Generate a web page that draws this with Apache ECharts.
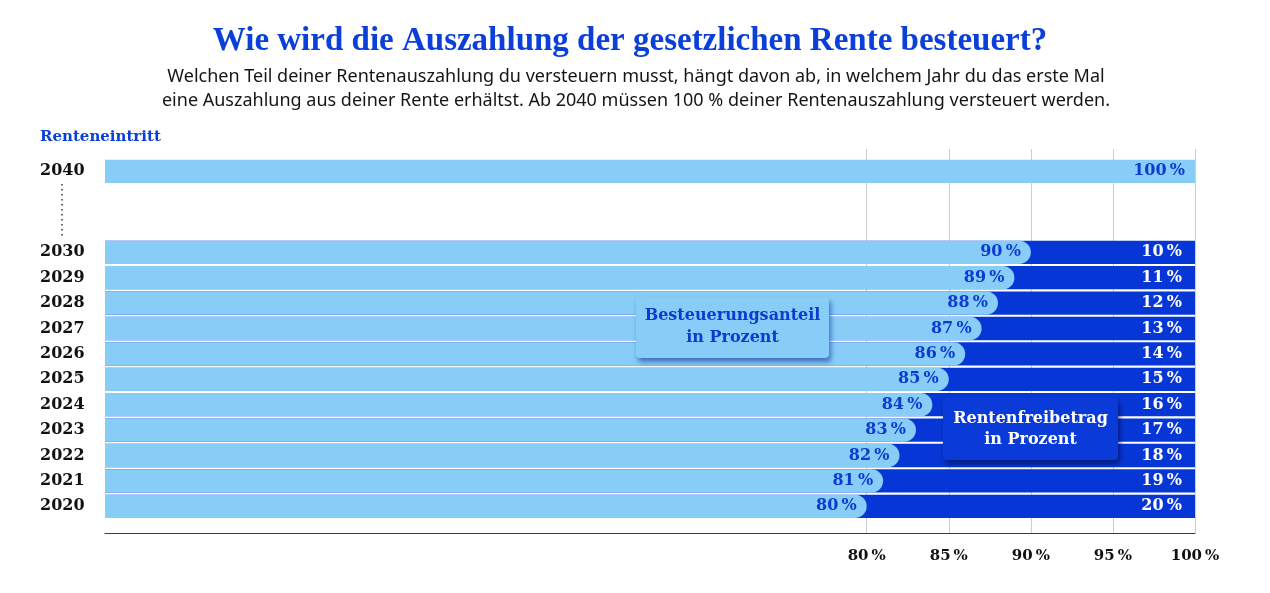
<!DOCTYPE html>
<html><head><meta charset="utf-8">
<script src="https://cdn.jsdelivr.net/npm/echarts@6/dist/echarts.min.js"></script>
<style>html,body{margin:0;padding:0;background:#fff}#c{width:1270px;height:593px}</style>
</head><body><div id="c"></div>
<script>
// ---- data ----
const years = ['2020','2021','2022','2023','2024','2025','2026','2027','2028','2029','2030'];
const besteuerungsanteil = [80,81,82,83,84,85,86,87,88,89,90];
const rentenfreibetrag = [20,19,18,17,16,15,14,13,12,11,10];
const years2040 = ['2040'];
const besteuerungsanteil2040 = [100];
const xTickValues = [80,85,90,95,100];
const X_MIN = 33.6, X_MAX = 100;

// ---- style ----
const LIGHT = '#88ccf8', DARK = '#0637d6', TEXTBLUE = '#0c3bcf', TITLEBLUE = '#0b3fd9';
const SERIF = '"DejaVu Serif", serif';
const pct = v => v + '\u2009%';
const BAR_W = 23.3;

const chart = echarts.init(document.getElementById('c'), null, {renderer: 'canvas'});

const yCat = (idx, data) => ({
  gridIndex: idx, type: 'category', data: data,
  axisLine: {show: false}, axisTick: {show: false}, splitLine: {show: false},
  axisLabel: {align: 'left', margin: 65, color: '#111', fontFamily: SERIF, fontWeight: 'bold', fontSize: 16}
});

const option = {
  animation: false,
  grid: [
    {left: 105, right: 75, top: 149, height: 384},
    {left: 105, right: 75, top: 158.6, height: 25.4},
    {left: 105, right: 75, top: 239.6, height: 279.4}
  ],
  xAxis: [
    {gridIndex: 0, type: 'value', min: X_MIN, max: X_MAX,
     axisLine: {show: true, onZero: false, lineStyle: {color: '#3c3c3c', width: 1.2}},
     axisTick: {show: false}, splitLine: {show: false},
     axisLabel: {customValues: xTickValues, formatter: v => pct(v), margin: 16,
       color: '#111', fontFamily: SERIF, fontWeight: 'bold', fontSize: 15}},
    {gridIndex: 1, type: 'value', min: X_MIN, max: X_MAX, show: false},
    {gridIndex: 2, type: 'value', min: X_MIN, max: X_MAX, show: false}
  ],
  yAxis: [
    {gridIndex: 0, type: 'value', min: 0, max: 1, show: false},
    yCat(1, years2040),
    yCat(2, years)
  ],
  series: [
    {type: 'scatter', xAxisIndex: 0, yAxisIndex: 0, data: [[X_MIN, 0]], symbolSize: 0, silent: true,
     markLine: {silent: true, z: 0, symbol: ['none', 'none'], label: {show: false},
       lineStyle: {color: '#cdced4', width: 1, type: 'solid'},
       emphasis: {disabled: true},
       data: xTickValues.map(v => ({xAxis: v}))}},
    {type: 'bar', xAxisIndex: 2, yAxisIndex: 2, barWidth: BAR_W, z: 2,
     data: besteuerungsanteil.map((b, i) => b + rentenfreibetrag[i]),
     itemStyle: {color: DARK},
     label: {show: true, position: 'insideRight', distance: 13,
       formatter: p => pct(rentenfreibetrag[p.dataIndex]),
       color: '#fff', fontFamily: SERIF, fontWeight: 'bold', fontSize: 16}},
    {type: 'bar', xAxisIndex: 2, yAxisIndex: 2, barWidth: BAR_W, barGap: '-100%', z: 3,
     data: besteuerungsanteil,
     itemStyle: {color: LIGHT, borderRadius: [0, 11.65, 11.65, 0]},
     label: {show: true, position: 'insideRight', distance: 10,
       formatter: p => pct(p.value),
       color: TEXTBLUE, fontFamily: SERIF, fontWeight: 'bold', fontSize: 16}},
    {type: 'bar', xAxisIndex: 1, yAxisIndex: 1, barWidth: BAR_W, z: 3,
     data: besteuerungsanteil2040,
     itemStyle: {color: LIGHT},
     label: {show: true, position: 'insideRight', distance: 10,
       formatter: p => pct(p.value),
       color: TEXTBLUE, fontFamily: SERIF, fontWeight: 'bold', fontSize: 16}}
  ],
  graphic: [
    {type: 'text', x: 630, y: 41, z: 100,
     style: {text: 'Wie wird die Auszahlung der gesetzlichen Rente besteuert?', align: 'center', verticalAlign: 'middle',
       fill: TITLEBLUE, font: 'bold 33px "Liberation Serif", serif'}},
    {type: 'text', x: 636, y: 77, z: 100,
     style: {text: 'Welchen Teil deiner Rentenauszahlung du versteuern musst, hängt davon ab, in welchem Jahr du das erste Mal',
       align: 'center', verticalAlign: 'middle', fill: '#151515', font: '18px "Noto Sans", sans-serif'}},
    {type: 'text', x: 636, y: 101, z: 100,
     style: {text: 'eine Auszahlung aus deiner Rente erhältst. Ab 2040 müssen 100 % deiner Rentenauszahlung versteuert werden.',
       align: 'center', verticalAlign: 'middle', fill: '#151515', font: '18px "Noto Sans", sans-serif'}},
    {type: 'text', x: 40, y: 137, z: 100,
     style: {text: 'Renteneintritt', align: 'left', verticalAlign: 'middle',
       fill: TITLEBLUE, font: 'bold 15px "DejaVu Serif", serif'}},
    {type: 'line', z: 100, shape: {x1: 62, y1: 184, x2: 62, y2: 236},
     style: {stroke: '#333', lineWidth: 1.5, lineDash: [1.5, 3.5]}},
    {type: 'rect', z: 100, shape: {x: 636, y: 297, width: 193, height: 61, r: 4},
     style: {fill: LIGHT, shadowColor: 'rgba(10,40,140,0.55)', shadowBlur: 5, shadowOffsetX: 2, shadowOffsetY: 4}},
    {type: 'text', z: 101, x: 732.5, y: 327, style: {text: 'Besteuerungsanteil\nin Prozent', align: 'center', verticalAlign: 'middle',
      lineHeight: 22, fill: TEXTBLUE, font: 'bold 16px "DejaVu Serif", serif'}},
    {type: 'rect', z: 100, shape: {x: 943, y: 398, width: 175, height: 62, r: 4},
     style: {fill: '#0a3ad8', shadowColor: 'rgba(0,10,70,0.6)', shadowBlur: 5, shadowOffsetX: 2, shadowOffsetY: 4}},
    {type: 'text', z: 101, x: 1030.5, y: 429, style: {text: 'Rentenfreibetrag\nin Prozent', align: 'center', verticalAlign: 'middle',
      lineHeight: 21, fill: '#fff', font: 'bold 16px "DejaVu Serif", serif'}}
  ]
};
chart.setOption(option);
</script>
</body></html>
